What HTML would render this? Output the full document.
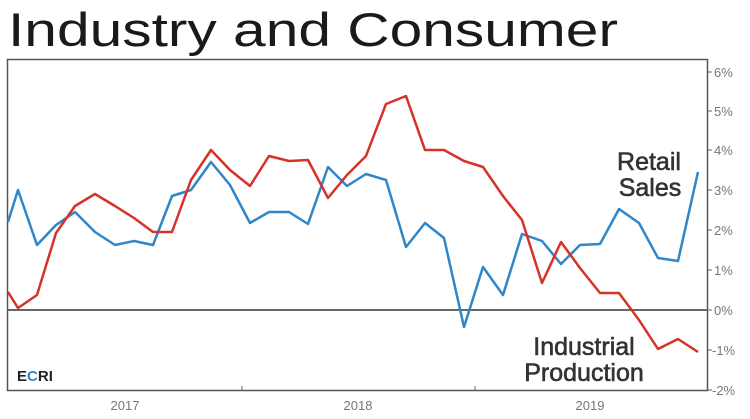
<!DOCTYPE html>
<html><head><meta charset="utf-8"><style>
html,body{margin:0;padding:0;background:#fff;width:750px;height:419px;overflow:hidden}
</style></head><body>
<svg width="750" height="419" viewBox="0 0 750 419" xmlns="http://www.w3.org/2000/svg" font-family="Liberation Sans, sans-serif">
<text x="8" y="46" font-size="47" fill="#1a1a1a" textLength="610" lengthAdjust="spacingAndGlyphs">Industry and Consumer</text>
<rect x="7.5" y="59.5" width="700" height="331" fill="none" stroke="#555" stroke-width="1.5"/>
<line x1="7" y1="310" x2="708" y2="310" stroke="#666" stroke-width="2"/>
<g stroke="#666" stroke-width="1">
<line x1="708" y1="72" x2="712" y2="72"/><line x1="708" y1="111" x2="712" y2="111"/><line x1="708" y1="150" x2="712" y2="150"/><line x1="708" y1="190" x2="712" y2="190"/><line x1="708" y1="230" x2="712" y2="230"/><line x1="708" y1="270" x2="712" y2="270"/><line x1="708" y1="310" x2="712" y2="310"/><line x1="708" y1="350" x2="712" y2="350"/><line x1="708" y1="390" x2="712" y2="390"/>
<line x1="242" y1="386" x2="242" y2="391"/><line x1="475" y1="386" x2="475" y2="391"/>
</g>
<g font-size="13" fill="#777">
<text x="714" y="77">6%</text><text x="714" y="116">5%</text><text x="714" y="155">4%</text><text x="714" y="195">3%</text><text x="714" y="235">2%</text><text x="714" y="275">1%</text><text x="714" y="315">0%</text><text x="712" y="355">-1%</text><text x="712" y="395">-2%</text>
<text x="125" y="410" text-anchor="middle">2017</text><text x="358" y="410" text-anchor="middle">2018</text><text x="590" y="410" text-anchor="middle">2019</text>
</g>
<polyline fill="none" stroke="#2f86c8" stroke-width="2.5" stroke-linejoin="round" points="8,222 18,190 37,245 56,225 75,212 95,232 115,245 134,241 153,245 172,196 191,190 211,162 230,185 250,223 269,212 289,212 308,224 328,167 347,186 366,174 386,180 406,247 425,223 444,238 464,327 483,267 503,295 522,234 542,241 561,264 580,245 600,244 619,209 639,223 658,258 678,261 698,172"/>
<polyline fill="none" stroke="#d63228" stroke-width="2.5" stroke-linejoin="round" points="8,292 18,308 37,295 56,233 75,206 95,194 115,206 134,218 153,232 172,232 191,180 211,150 230,170 250,186 269,156 289,161 308,160 328,198 347,175 366,156 386,104 406,96 425,150 444,150 464,161 483,167 503,196 522,220 542,283 561,242 580,268 600,293 619,293 639,320 658,349 678,339 698,352"/>
<g font-size="25" fill="#333" stroke="#333" stroke-width="0.6" text-anchor="middle">
<text x="649" y="170">Retail</text><text x="650" y="196">Sales</text>
<text x="584" y="355">Industrial</text><text x="584" y="381">Production</text>
</g>
<text x="17" y="381" font-size="15" font-weight="bold" fill="#222">E<tspan fill="#2f86c8">C</tspan>RI</text>
</svg>
</body></html>
